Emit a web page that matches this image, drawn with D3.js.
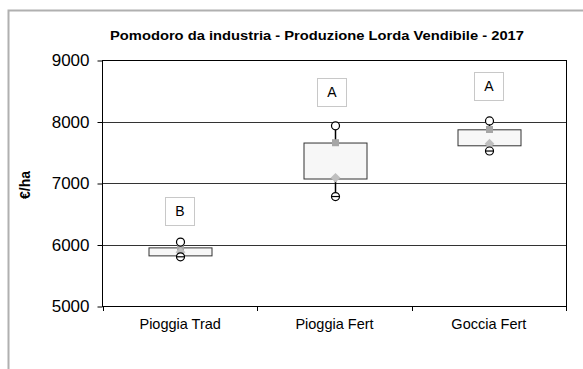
<!DOCTYPE html>
<html><head><meta charset="utf-8">
<script src="https://cdn.jsdelivr.net/npm/d3@7"></script>
<style>body{margin:0;background:#fff;}svg{display:block;font-family:"Liberation Sans",Arial,sans-serif;}</style>
</head><body>
<svg id="c" width="583" height="369"></svg>
<script>
const categories = ["Pioggia Trad", "Pioggia Fert", "Goccia Fert"];
const maxValues = [6040, 7930, 8010];
const q3Values = [5945, 7650, 7865];
const q1Values = [5815, 7065, 7605];
const minValues = [5800, 6780, 7520];
const squareValues = [5955, 7655, 7870];
const diamondValues = [5875, 7085, 7640];
const letters = ["B", "A", "A"];
const letterValues = [6545, 8480, 8580];
const yTicks = [5000, 6000, 7000, 8000, 9000];
const title = "Pomodoro da industria  - Produzione Lorda Vendibile - 2017";
const yLabel = "€/ha";

const svg = d3.select("#c");
const L = 102, R = 566, T = 60, B = 306;
const x = d3.scaleBand().domain(categories).range([L + 1, R]).paddingInner(0).paddingOuter(0);
const y = d3.scaleLinear().domain([5000, 9000]).range([B, T]);

// outer frame
svg.append("path").attr("d", `M8.5,369 V10.5 H583`).attr("fill", "none").attr("stroke", "#b0b0b0").attr("stroke-width", 2);

// title
svg.append("text").attr("x", 317).attr("y", 40).attr("text-anchor", "middle")
  .attr("font-weight", "bold").attr("font-size", 13.5)
  .attr("textLength", 414).attr("lengthAdjust", "spacingAndGlyphs").text(title);

// gridlines
svg.append("g").selectAll("line").data(yTicks.slice(1)).join("line")
  .attr("x1", L).attr("x2", R).attr("y1", d => Math.round(y(d)) + 0.5).attr("y2", d => Math.round(y(d)) + 0.5)
  .attr("stroke", "#333").attr("stroke-width", 1);

// plot border
svg.append("rect").attr("x", L + 0.5).attr("y", T + 0.5).attr("width", R - L).attr("height", B - T)
  .attr("fill", "none").attr("stroke", "#000").attr("stroke-width", 1);

// y axis
const ya = d3.axisLeft(y).tickValues(yTicks).tickSize(5).tickPadding(8).tickFormat(d3.format("d"));
const yg = svg.append("g").attr("transform", `translate(${L + 0.5},0.5)`).call(ya);
yg.select(".domain").remove();
yg.selectAll("text").attr("font-size", 17).attr("fill", "#000").attr("font-family", "Liberation Sans, Arial, sans-serif");
yg.selectAll("line").attr("stroke", "#000");

// x axis
const xa = d3.axisBottom(x).tickSize(0).tickPadding(12);
const xg = svg.append("g").attr("transform", `translate(0,${B + 0.5})`).call(xa);
xg.select(".domain").remove();
xg.selectAll("text").attr("font-size", 14.5).attr("fill", "#000").attr("font-family", "Liberation Sans, Arial, sans-serif");
// category separator ticks
const edges = categories.map(c => x(c)).concat([x(categories[categories.length - 1]) + x.bandwidth()]);
svg.append("g").selectAll("line").data(edges).join("line")
  .attr("x1", d => Math.round(d) + 0.5).attr("x2", d => Math.round(d) + 0.5)
  .attr("y1", B).attr("y2", B + 5).attr("stroke", "#000");

// y label
svg.append("text").attr("transform", `translate(30,185) rotate(-90)`).attr("text-anchor", "middle")
  .attr("font-weight", "bold").attr("font-size", 14).text(yLabel);

const bw = x.bandwidth() * 0.41;
const cx = c => x(c) + x.bandwidth() / 2;

const g = svg.append("g");
categories.forEach((c, i) => {
  const xc = Math.round(cx(c)) + 0.5;
  // whiskers
  g.append("line").attr("x1", xc).attr("x2", xc).attr("y1", y(maxValues[i])).attr("y2", y(q3Values[i])).attr("stroke", "#000").attr("stroke-width", 1.5);
  g.append("line").attr("x1", xc).attr("x2", xc).attr("y1", y(q1Values[i])).attr("y2", y(minValues[i])).attr("stroke", "#000").attr("stroke-width", 1.5);
  // box
  g.append("rect").attr("x", Math.round(xc - bw / 2)).attr("y", y(q3Values[i]))
    .attr("width", Math.round(bw)).attr("height", y(q1Values[i]) - y(q3Values[i]))
    .attr("fill", "#f7f7f7").attr("stroke", "#333").attr("stroke-width", 1);
  // square marker
  g.append("rect").attr("x", xc - 3.5).attr("y", y(squareValues[i]) - 3.5).attr("width", 7).attr("height", 7).attr("fill", "#a6a6a6");
  // diamond marker
  g.append("path").attr("d", d3.symbol(d3.symbolDiamond2, 60)()).attr("transform", `translate(${xc},${y(diamondValues[i])})`).attr("fill", "#bfbfbf");
  // circles
  [maxValues[i], minValues[i]].forEach(v => {
    g.append("circle").attr("cx", xc).attr("cy", y(v)).attr("r", 4).attr("fill", "#fff").attr("stroke", "#000").attr("stroke-width", 1.2);
  });
  g.append("line").attr("x1", xc - 4).attr("x2", xc + 4).attr("y1", y(minValues[i])).attr("y2", y(minValues[i])).attr("stroke", "#000").attr("stroke-width", 1.2);
  // letter boxes
  const ly = y(letterValues[i]);
  const lx = xc - (i === 1 ? 4 : 1);
  g.append("rect").attr("x", Math.round(lx - 14.5) + 0.5).attr("y", Math.round(ly - 14) + 0.5).attr("width", 29).attr("height", 28)
    .attr("fill", "#fff").attr("stroke", "#c8c8c8").attr("stroke-width", 1);
  g.append("text").attr("x", lx + 0.5).attr("y", ly + 5.5).attr("text-anchor", "middle").attr("font-size", 14).text(letters[i]);
});
</script>
</body></html>
